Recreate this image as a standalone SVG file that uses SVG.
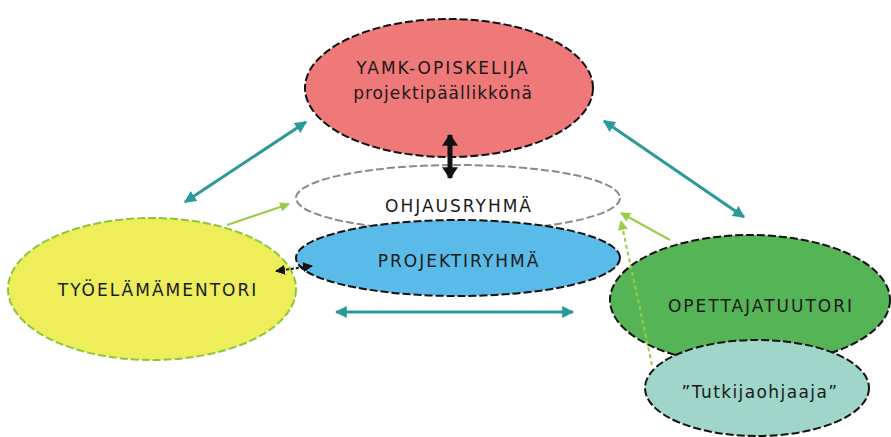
<svg xmlns="http://www.w3.org/2000/svg" width="891" height="437" viewBox="0 0 891 437">
  <defs>
    <marker id="teal" viewBox="0 0 10 10" refX="9" refY="5" markerWidth="4" markerHeight="4" orient="auto-start-reverse" markerUnits="strokeWidth">
      <path d="M0,0 L10,5 L0,10 Z" fill="#2a9a98"/>
    </marker>
    <marker id="lime" viewBox="0 0 10 10" refX="9" refY="5" markerWidth="5" markerHeight="5" orient="auto-start-reverse" markerUnits="strokeWidth">
      <path d="M0,0 L10,5 L0,10 Z" fill="#9acd45"/>
    </marker>
    <marker id="blk" viewBox="0 0 10 10" refX="9" refY="5" markerWidth="2.4" markerHeight="3.2" orient="auto-start-reverse" markerUnits="strokeWidth" preserveAspectRatio="none">
      <path d="M0,0 L10,5 L0,10 Z" fill="#111"/>
    </marker>
    <marker id="blks" viewBox="0 0 10 10" refX="9" refY="5" markerWidth="5" markerHeight="5" orient="auto-start-reverse" markerUnits="strokeWidth">
      <path d="M0,0 L10,5 L0,10 Z" fill="#111"/>
    </marker>
  </defs>
  <style>
    .lbl { font-family: "DejaVu Sans", Verdana, sans-serif; font-size: 17px; fill: #1a1a1a; text-anchor: middle; letter-spacing: 2px; }
    .node { stroke-width: 2; stroke-dasharray: 8 3; }
    .teal { stroke: #2a9a98; stroke-width: 3; fill: none; marker-start: url(#teal); marker-end: url(#teal); }
    .lime { stroke: #9acd45; stroke-width: 2; fill: none; marker-end: url(#lime); }
  </style>
  <rect width="891" height="437" fill="#ffffff"/>

  <g id="ohjausryhma">
    <ellipse cx="458" cy="198" rx="162" ry="33" fill="#ffffff" stroke="#8a8a8a" class="node"/>
    <text class="lbl" x="459" y="212">OHJAUSRYHMÄ</text>
  </g>

  <g id="projektiryhma">
    <ellipse cx="458" cy="258" rx="162" ry="38" fill="#5bbbe8" stroke="#111" class="node"/>
    <text class="lbl" x="459" y="267">PROJEKTIRYHMÄ</text>
  </g>

  <g id="yamk-opiskelija">
    <ellipse cx="449" cy="88" rx="144" ry="69" fill="#ef7878" stroke="#111" class="node"/>
    <text class="lbl" x="443" y="74">YAMK-OPISKELIJA</text>
    <text class="lbl" x="443" y="99" style="letter-spacing:1px">projektipäällikkönä</text>
  </g>

  <g id="tyoelamamentori">
    <ellipse cx="152" cy="289" rx="144" ry="71" fill="#eeee5a" stroke="#8cc63f" class="node"/>
    <text class="lbl" x="158" y="296">TYÖELÄMÄMENTORI</text>
  </g>

  <g id="opettajatuutori">
    <ellipse cx="750" cy="300" rx="140" ry="65" fill="#55b455" stroke="#111" class="node"/>
    <text class="lbl" x="761" y="312">OPETTAJATUUTORI</text>
  </g>

  <g id="tutkijaohjaaja">
    <ellipse cx="757" cy="388" rx="112" ry="48" fill="#9fd6c9" stroke="#111" class="node"/>
    <text class="lbl" x="760" y="398" style="letter-spacing:1.4px">”Tutkijaohjaaja”</text>
  </g>

  <g id="connectors">
    <line class="teal" x1="185" y1="202" x2="306" y2="122"/>
    <line class="teal" x1="604" y1="121" x2="744" y2="217"/>
    <line class="teal" x1="336" y1="312" x2="573" y2="312"/>
    <line class="lime" x1="227" y1="225" x2="289" y2="204"/>
    <line class="lime" x1="670" y1="240" x2="621" y2="213"/>
    <line class="lime" x1="652" y1="365" x2="621" y2="221" stroke-dasharray="4 3"/>
    <line x1="450" y1="135" x2="450" y2="178" stroke="#111" stroke-width="5" marker-start="url(#blk)" marker-end="url(#blk)"/>
    <line x1="276" y1="271" x2="312" y2="266" stroke="#111" stroke-width="2" stroke-dasharray="3 2" marker-start="url(#blks)" marker-end="url(#blks)"/>
  </g>
</svg>
